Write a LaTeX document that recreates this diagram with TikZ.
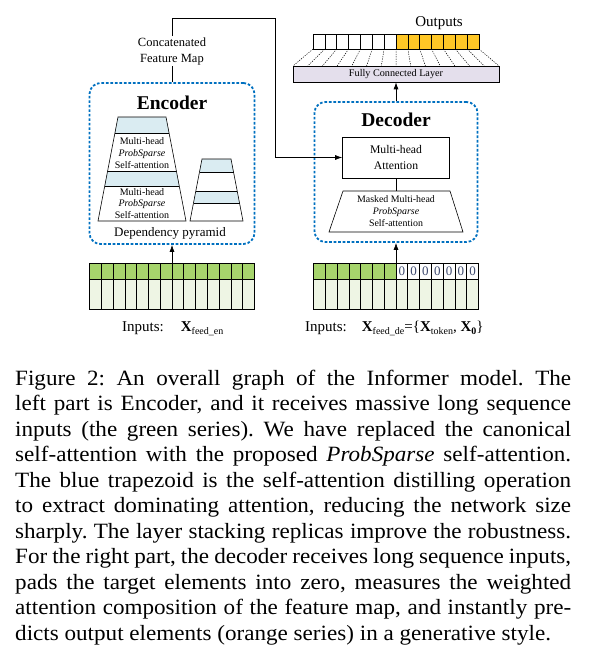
\documentclass[tikz,border=0pt]{standalone}
\usepackage{fontspec}
\usepackage{graphicx}
\setmainfont{Liberation Serif}
\usetikzlibrary{arrows.meta,calc}
\definecolor{encblue}{RGB}{0,112,192}
\definecolor{bandblue}{RGB}{218,236,242}
\definecolor{ingreen}{RGB}{166,212,108}
\definecolor{inlight}{RGB}{238,245,228}
\definecolor{outorange}{RGB}{255,199,38}
\definecolor{fclav}{RGB}{228,223,236}
\definecolor{zerocol}{RGB}{60,72,110}
\newcommand\mysub[1]{\raisebox{-3.5pt}{\fontsize{10}{10}\selectfont #1}}
\newcommand\capline[1]{\scalebox{1.06}[1]{\makebox[524.5pt][s]{#1}}}
\frenchspacing
\begin{document}
\begin{tikzpicture}[x=1pt,y=-1pt,
  dashbox/.style={draw=encblue, line width=1.8pt, dash pattern=on 2.6pt off 1.9pt, rounded corners=11pt, inner sep=0pt},
  cellline/.style={draw=black, line width=0.6pt},
  arr/.style={-{Latex[length=7pt,width=5pt]}, line width=0.7pt},
  conn/.style={line width=0.7pt},
  capt/.style={anchor=base west, inner sep=0pt, font=\fontsize{21.8}{25.5}\selectfont}]
\useasboundingbox (0,0) rectangle (592,653);

% ---------- Encoder ----------
\node[dashbox, minimum width=165pt, minimum height=161pt] (enc) at (172,163.5) {};
\node[font=\fontsize{19.5}{22}\selectfont\bfseries] (enclab) at (172,103) {Encoder};

% big trapezoid
\fill[bandblue] (118,117) -- (166,117) -- (169.1,133) -- (114.9,133) -- cycle;
\fill[bandblue] (107.6,171) -- (176.4,171) -- (179.3,186) -- (104.7,186) -- cycle;
\draw[line width=0.6pt] (118,117) -- (166,117) -- (186,221) -- (98,221) -- cycle;
\draw[line width=0.6pt] (114.9,133) -- (169.1,133) (107.6,171) -- (176.4,171) (104.7,186) -- (179.3,186);
\node[align=center, font=\fontsize{10}{11.6}\selectfont, inner sep=0pt] (att1) at (142,153) {Multi-head\\\textit{ProbSparse}\\Self-attention};
\node[align=center, font=\fontsize{10}{11.6}\selectfont, inner sep=0pt] (att2) at (142,203.5) {Multi-head\\\textit{ProbSparse}\\Self-attention};

% small trapezoid
\fill[bandblue] (202,159) -- (231,159) -- (233.5,172) -- (199.5,172) -- cycle;
\fill[bandblue] (195.8,191) -- (237.2,191) -- (239.5,203) -- (193.5,203) -- cycle;
\draw[line width=0.6pt] (202,159) -- (231,159) -- (243,221) -- (190,221) -- cycle;
\draw[line width=0.6pt] (199.5,172) -- (233.5,172) (195.8,191) -- (237.2,191) (193.5,203) -- (239.5,203);

\node[font=\fontsize{13}{15}\selectfont] (deplab) at (170,233) {Dependency pyramid};

% concatenated feature map
\node[align=center, font=\fontsize{12.5}{16}\selectfont, inner sep=1pt] (cfm) at (172,51) {Concatenated\\Feature Map};
\coordinate (c1) at (172,18);
\coordinate (c2) at (275,18);

% ---------- Decoder ----------
\node[dashbox, minimum width=163pt, minimum height=140pt] (dec) at (396,172) {};
\node[font=\fontsize{19.5}{22}\selectfont\bfseries] (declab) at (396,120) {Decoder};
\node[draw, line width=0.6pt, minimum width=107pt, minimum height=41pt, align=center, inner sep=0pt,
      font=\fontsize{11.7}{16}\selectfont] (mha) at (396,157.5) {Multi-head\\Attention};
\draw[line width=0.6pt, fill=white] (343,191) -- (450,191) -- (463,232) -- (329,232) -- cycle;
\coordinate (mtop) at (396,191);
\node[align=center, font=\fontsize{9.9}{12}\selectfont, inner sep=0pt] (masked) at (396,211.5) {Masked Multi-head\\\textit{ProbSparse}\\Self-attention};

% ---------- Output part ----------
\node[draw, line width=0.6pt, fill=fclav, minimum width=206pt, minimum height=16pt, inner sep=0pt,
      font=\fontsize{10.2}{12}\selectfont] (fc) at (396,74) {Fully Connected Layer};
\foreach \i in {0,...,13} {
  \pgfmathsetmacro{\xx}{313+\i*11.857}
  \ifnum\i<7
    \draw[cellline, fill=white] (\xx,34) rectangle ++(11.857,15);
  \else
    \draw[cellline, fill=outorange] (\xx,34) rectangle ++(11.857,15);
  \fi
}
\foreach \i in {0,...,14} {
  \draw[line width=0.5pt, dash pattern=on 1.2pt off 1.2pt] ({313+\i*11.857},49) -- ({293+\i*14.714},66);
}
\node[font=\fontsize{15}{17}\selectfont] (outlab) at (439,23) {Outputs};

% ---------- Input grids ----------
\node[minimum width=165pt, minimum height=46pt, inner sep=0pt] (eg) at (172,286) {};
\foreach \i in {0,...,13} {
  \pgfmathsetmacro{\xx}{89.5+\i*11.786}
  \draw[cellline, fill=ingreen] (\xx,263) rectangle ++(11.786,16);
  \draw[cellline, fill=inlight] (\xx,279) rectangle ++(11.786,30);
}
\node[minimum width=165pt, minimum height=46pt, inner sep=0pt] (dg) at (396,286) {};
\foreach \i in {0,...,13} {
  \pgfmathsetmacro{\xx}{313.5+\i*11.786}
  \ifnum\i<7
    \draw[cellline, fill=ingreen] (\xx,263) rectangle ++(11.786,16);
  \else
    \draw[cellline, fill=white] (\xx,263) rectangle ++(11.786,16);
    \node[font=\fontsize{13}{14}\selectfont, text=zerocol, inner sep=0pt] at ({\xx+5.9},271) {0};
  \fi
  \draw[cellline, fill=inlight] (\xx,279) rectangle ++(11.786,30);
}

\node[anchor=base west, inner sep=0pt, font=\fontsize{15}{17}\selectfont] (inen) at (122,331)
  {Inputs:\hspace{17pt}\textbf{X}\mysub{feed\_en}};
\node[anchor=base west, inner sep=0pt, font=\fontsize{15}{17}\selectfont] (inde) at (305,331)
  {Inputs:\hspace{15pt}\textbf{X}\mysub{feed\_de}=\{\textbf{X}\mysub{token}, \textbf{X}\mysub{\textbf{0}}\}};

% ---------- Connectors ----------
\draw[conn] (enc.north) -- (cfm.south);
\draw[arr] (cfm.north) -- (c1) -- (c2) |- (mha.west);
\draw[conn] (mha.south) -- (mtop);
\draw[arr] (dec.north) -- (fc.south);
\draw[arr] (eg.north) -- (enc.south);
\draw[arr] (dg.north) -- (dec.south);

% ---------- Caption ----------
\node[capt] (l1) at (15,385) {\capline{Figure 2: An overall graph of the Informer model. The}};
\node[capt] (l2) at (15,410.5) {\capline{left part is Encoder, and it receives massive long sequence}};
\node[capt] (l3) at (15,436) {\capline{inputs (the green series). We have replaced the canonical}};
\node[capt] (l4) at (15,461.5) {\capline{self-attention with the proposed \textit{ProbSparse} self-attention.}};
\node[capt] (l5) at (15,487) {\capline{The blue trapezoid is the self-attention distilling operation}};
\node[capt] (l6) at (15,512.5) {\capline{to extract dominating attention, reducing the network size}};
\node[capt] (l7) at (15,538) {\capline{sharply. The layer stacking replicas improve the robustness.}};
\node[capt] (l8) at (15,563.5) {\capline{For the right part, the decoder receives long sequence inputs,}};
\node[capt] (l9) at (15,589) {\capline{pads the target elements into zero, measures the weighted}};
\node[capt] (l10) at (15,614.5) {\capline{attention composition of the feature map, and instantly pre-}};
\node[capt] (l11) at (15,640) {\scalebox{1.06}[1]{dicts output elements (orange series) in a generative style.}};
\end{tikzpicture}
\end{document}
